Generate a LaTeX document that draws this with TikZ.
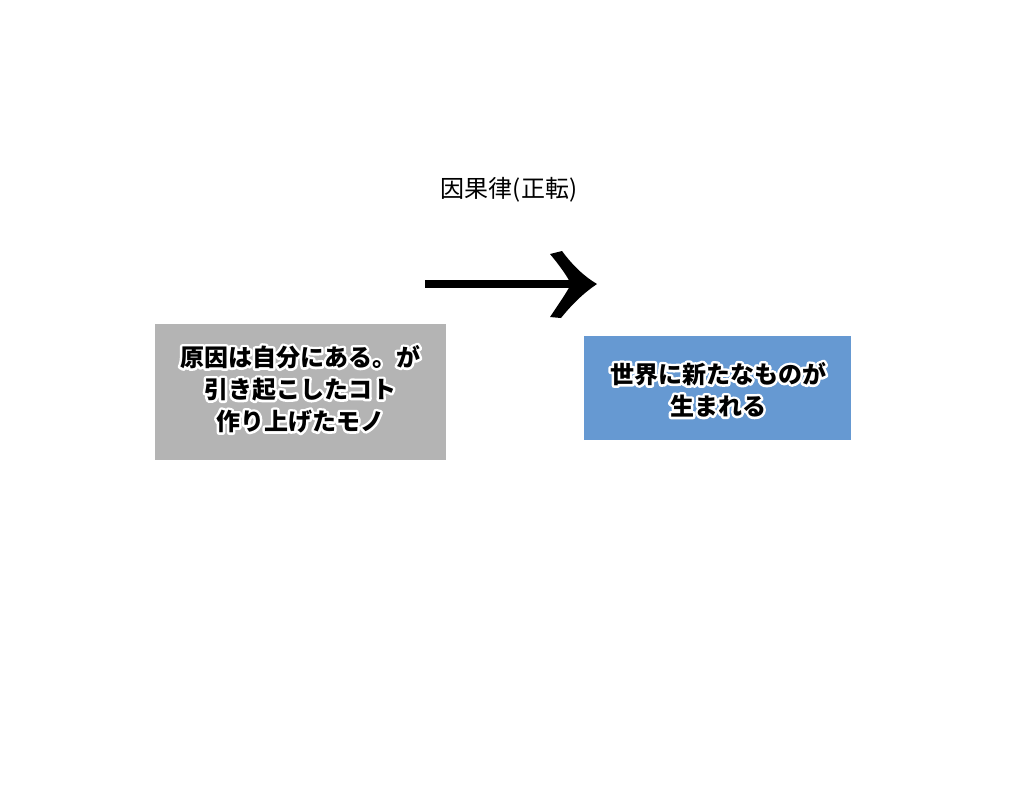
\documentclass[tikz,border=0pt]{standalone}
\usepackage{fontspec}
\setmainfont{Noto Sans CJK JP}
\usetikzlibrary{calc}
\definecolor{boxgray}{HTML}{B4B4B4}
\definecolor{boxblue}{HTML}{6699D2}
\tikzset{
  box/.style={draw=none, inner sep=0pt},
  txt/.style={align=center, inner sep=0pt, font=\fontsize{24}{32}\selectfont\bfseries},
  ttl/.style={inner sep=0pt, font=\fontsize{24}{30}\selectfont},
}
\newcommand\strokeon{\special{pdf:literal direct 1 Tr 1 1 1 RG 5 w 1 j 1 J}}
\newcommand\strokeoff{\special{pdf:literal direct 0 Tr 1 w 0 j 0 J}}
\newcommand\SL{}
\newcommand\glownode[3]{%
  \node[txt, text=white] at (#2) {\let\SL\strokeon\strokeon#3\strokeoff};
  \node[txt, text=black] (#1) at (#2) {\let\SL\relax#3};
}
\begin{document}
\begin{tikzpicture}[x=1pt,y=-1pt]
\useasboundingbox[fill=white] (0,0) rectangle (1024,809);
% title
\node[ttl] (title) at (509,190) {因果律(正転)};
% boxes
\node[box, fill=boxgray, minimum width=291pt, minimum height=136pt] (cause) at (300.5,392) {};
\node[box, fill=boxblue, minimum width=267pt, minimum height=104pt] (effect) at (717.5,388) {};
% texts
\coordinate (ct) at (300,389);
\coordinate (et) at (718,389.5);
\glownode{causetext}{ct}{原因は自分にある。が\\\SL 引き起こしたコト\\\SL 作り上げたモノ}
\glownode{effecttext}{et}{世界に新たなものが\\\SL 生まれる}
% arrow
\coordinate (as) at (425,284);
\coordinate (ae) at (580,284);
\coordinate (tip) at (597,284);
\draw[line width=8pt] (as) -- (ae);
\fill (550,254) -- (562,251)
  .. controls (573,266) and (585,277) .. (tip)
  .. controls (585,292) and (573,303) .. (561,318)
  -- (550,317)
  .. controls (560,302) and (567,292) .. (571,284)
  .. controls (567,276) and (560,266) .. cycle;
\end{tikzpicture}
\end{document}
